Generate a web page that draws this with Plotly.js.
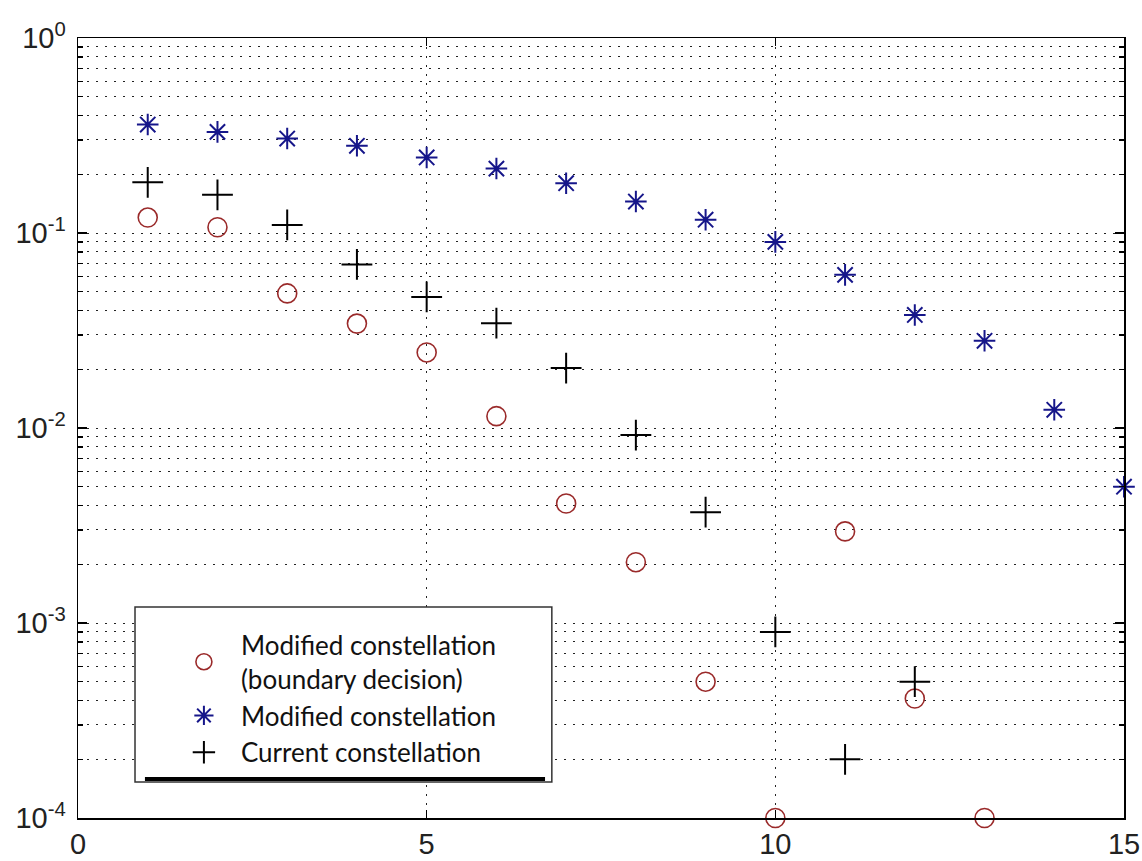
<!DOCTYPE html>
<html>
<head>
<meta charset="utf-8">
<script src="https://cdn.plot.ly/plotly-3.0.1.min.js"></script>
<style>html,body{margin:0;padding:0;background:#fff;}#chart{width:1142px;height:861px;}</style>
</head>
<body>
<div id="chart"></div>
<script>
// Data
const xCircle = [1, 2, 3, 4, 5, 6, 7, 8, 9, 10, 11, 12, 13];
const yCircle = [0.12, 0.107, 0.049, 0.0343, 0.0244, 0.0115, 0.0041, 0.00205, 0.0005, 0.0001, 0.00295, 0.00041, 0.0001];

const xStar = [1, 2, 3, 4, 5, 6, 7, 8, 9, 10, 11, 12, 13, 14, 15];
const yStar = [0.36, 0.33, 0.305, 0.28, 0.244, 0.214, 0.18, 0.145, 0.117, 0.09, 0.061, 0.038, 0.028, 0.0124, 0.005];

const xPlus = [1, 2, 3, 4, 5, 6, 7, 8, 9, 10, 11, 12];
const yPlus = [0.182, 0.157, 0.11, 0.069, 0.047, 0.0345, 0.0203, 0.0092, 0.0037, 0.0009, 0.0002, 0.0005];

const seriesNames = ["Modified constellation<br>(boundary decision)", "Modified constellation", "Current constellation"];

const xTickVals = [0, 5, 10, 15];
const xTickText = ["0", "5", "10", "15"];
const yTickVals = [1e-4, 1e-3, 1e-2, 1e-1, 1];
const yTickText = ["10<sup>-4</sup>", "10<sup>-3</sup>", "10<sup>-2</sup>", "10<sup>-1</sup>", "10<sup>0</sup>"];
const yMinorVals = [];
for (let e = -4; e < 0; e++) { for (let m = 2; m <= 9; m++) yMinorVals.push(m * Math.pow(10, e)); }

const traces = [
  {x: xCircle, y: yCircle, name: seriesNames[0], mode: 'markers', type: 'scatter', cliponaxis: false,
   marker: {symbol: 'circle-open', size: 19, color: '#9a2a2a', line: {width: 1.6, color: '#9a2a2a'}}},
  {x: xStar, y: yStar, name: seriesNames[1], mode: 'markers', type: 'scatter', cliponaxis: false,
   marker: {symbol: 'asterisk-open', size: 18, color: '#16168a', line: {width: 2, color: '#16168a'}}},
  {x: xPlus, y: yPlus, name: seriesNames[2], mode: 'markers', type: 'scatter', cliponaxis: false,
   marker: {symbol: 'cross-thin-open', size: 22, color: '#000', line: {width: 2, color: '#000'}}}
];

const tickFont = {family: 'Liberation Sans, Arial, sans-serif', size: 29, color: '#222'};
const gridDash = '2px,7px';
const layout = {
  width: 1142, height: 861,
  margin: {l: 78, r: 18, t: 38, b: 43},
  paper_bgcolor: '#fff', plot_bgcolor: '#fff',
  showlegend: true,
  font: {family: 'Liberation Sans, Arial, sans-serif', color: '#222'},
  xaxis: {
    range: [0, 15], tickvals: xTickVals, ticktext: xTickText,
    ticks: 'inside', ticklen: 8, tickwidth: 1.2, tickcolor: '#000',
    showline: true, linecolor: '#000', linewidth: 1.5, mirror: 'ticks',
    showgrid: true, gridcolor: '#222', gridwidth: 1, griddash: gridDash,
    zeroline: false, tickfont: tickFont, ticklabeloverflow: 'allow', ticklabelstandoff: 0
  },
  yaxis: {
    type: 'log', range: [-4, 0], tickvals: yTickVals, ticktext: yTickText,
    ticks: 'inside', ticklen: 9, tickwidth: 1.2, tickcolor: '#000',
    showline: true, linecolor: '#000', linewidth: 1.5, mirror: 'ticks',
    showgrid: true, gridcolor: '#222', gridwidth: 1, griddash: gridDash,
    zeroline: false, tickfont: tickFont, ticklabelstandoff: 5, ticklabeloverflow: 'allow',
    minor: {tickvals: yMinorVals, ticks: 'inside', ticklen: 5, tickwidth: 1.2, tickcolor: '#000',
            showgrid: true, gridcolor: '#222', gridwidth: 1, griddash: gridDash}
  },
  legend: {
    x: 0.085, y: 0.252, xanchor: 'left', yanchor: 'top',
    bgcolor: 'rgba(0,0,0,0)', borderwidth: 0,
    font: {family: 'Lato, Open Sans, sans-serif', size: 26, color: '#111'},
    itemwidth: 64, tracegroupgap: 0
  },
  shapes: [
    {type: 'rect', xref: 'paper', yref: 'paper', x0: 0.0545, x1: 0.453, y0: 0.046, y1: 0.2705,
     fillcolor: '#fff', line: {color: '#333', width: 1.5}, layer: 'above'},
    {type: 'line', xref: 'paper', yref: 'paper', x0: 0.064, x1: 0.4465, y0: 0.05, y1: 0.05,
     line: {color: '#000', width: 4}, layer: 'above'}
  ]
};

Plotly.newPlot('chart', traces, layout, {displayModeBar: false, staticPlot: true});
</script>
</body>
</html>
